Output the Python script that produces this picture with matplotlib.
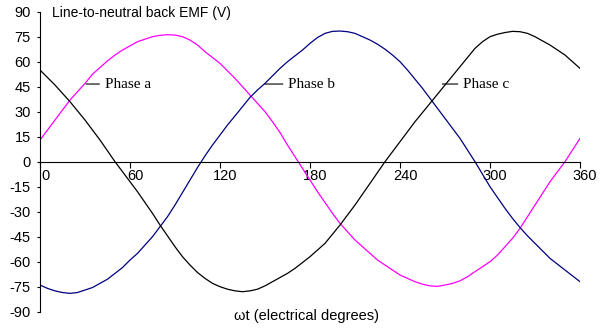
import matplotlib
matplotlib.use("Agg")
import matplotlib.pyplot as plt
from matplotlib.transforms import ScaledTranslation


# --------------------------------
# DATA  (back EMF every 5 electrical degrees)
# --------------------------------

theta = list(range(0, 361, 5))

phase_a = [13, 19, 25, 31, 37, 42, 47, 52.5, 56.5, 60.5,
           64, 67, 69.5, 72, 73.5, 75, 75.8, 76.2, 76, 75,
           73, 70, 66, 62.5, 59, 54.5, 50, 45, 40, 35,
           30, 24, 17.5, 10, 3, -4, -11, -18, -24.5, -31,
           -37, -42, -47, -51, -55, -59, -62, -65, -68, -70,
           -72, -73.5, -74.5, -74.8, -74, -73, -71.5, -69, -66, -63,
           -60, -56, -51, -46, -40, -33, -26, -19, -12, -6,
           0, 7, 14]

phase_b = [-74, -76, -77.5, -78.5, -79, -78.5, -77, -75.5, -73, -70.5,
           -67, -63.5, -59, -55, -50, -45, -39, -33, -26, -18.5,
           -11, -3.5, 3.5, 10, 16, 22, 27.5, 33, 38.6, 43,
           47, 51.5, 56, 60, 63.5, 67, 71, 74.5, 77, 78.2,
           78.4, 78, 77, 75, 73, 70.5, 67.5, 64, 60, 55,
           49.5, 44, 38, 32, 26, 20, 14, 7, 0, -7.5,
           -15, -21.5, -28, -34, -39.5, -44.5, -49, -53.5, -58, -61.5,
           -65, -68.5, -72]

phase_c = [55, 50.5, 46, 41, 36, 30.5, 25, 19, 13, 6.5,
           0, -6, -12, -18, -24.5, -31, -38, -44.5, -51, -57,
           -62, -66.5, -70, -73, -75, -76.5, -77.5, -78, -77.5, -76.5,
           -74.5, -72, -69.5, -67, -64, -60.5, -57, -53, -49, -43.5,
           -38, -32, -26, -19.5, -13, -6.5, 0, 6, 12, 18,
           24, 29.5, 35, 40.5, 46, 51.5, 57, 62.5, 68, 72,
           75, 76.5, 77.5, 78.2, 78, 77, 75, 72.5, 70, 67,
           64, 60, 56]

x_ticks = [0, 60, 120, 180, 240, 300, 360]
y_ticks = [-90, -75, -60, -45, -30, -15, 0, 15, 30, 45, 60, 75, 90]

# label text, point on the curve, text anchor
labels = ["Phase a", "Phase b", "Phase c"]
label_points = [(30.7, 46.6), (150, 46.6), (268.2, 46.6)]
label_text_pos = [(43.3, 46.6), (165.6, 46.6), (282.2, 46.6)]


# --------------------------------
# FIGURE
# --------------------------------

plt.rcParams["font.family"] = ["Liberation Sans", "DejaVu Sans"]
plt.rcParams["axes.unicode_minus"] = False

fig = plt.figure(figsize=(6.0, 3.29), dpi=100)
ax = fig.add_axes([40 / 600, 17.3 / 329, 540 / 600, 300 / 329])

ax.plot(theta, phase_a, color="#ff00ff", lw=0.9)
ax.plot(theta, phase_b, color="#000080", lw=0.9)
ax.plot(theta, phase_c, color="black", lw=0.9)

for name, pt, pos in zip(labels, label_points, label_text_pos):
    ax.annotate(
        name,
        xy=pt,
        xytext=pos,
        ha="left",
        va="center",
        fontsize=11,
        family=["Liberation Serif", "DejaVu Serif"],
        arrowprops=dict(arrowstyle="-", lw=0.8, color="black",
                        shrinkA=2, shrinkB=0),
    )


# --------------------------------
# AXES
# --------------------------------

ax.set_xlim(0, 360)
ax.set_ylim(-90, 90)

ax.spines["top"].set_visible(False)
ax.spines["right"].set_visible(False)
ax.spines["bottom"].set_position(("data", 0))
ax.spines["left"].set_linewidth(0.8)
ax.spines["bottom"].set_linewidth(0.8)

ax.set_xticks(x_ticks)
ax.set_yticks(y_ticks)
ax.tick_params(axis="x", direction="out", length=4, width=0.8,
               pad=1.5, labelsize=10.5)
ax.tick_params(axis="y", direction="out", length=2.5, width=0.8,
               pad=4, labelsize=10.5)

# x tick labels sit a little to the right of their ticks
shift = ScaledTranslation(5 / 100, 0, fig.dpi_scale_trans)
for lab in ax.get_xticklabels():
    lab.set_transform(lab.get_transform() + shift)

ax.text(0.022, 0.995, "Line-to-neutral back EMF (V)",
        transform=ax.transAxes, ha="left", va="center", fontsize=10)

ax.text(0.494, -0.014, "\u03c9t (electrical degrees)",
        transform=ax.transAxes, ha="center", va="center", fontsize=10.5)

fig.savefig("out.png", dpi=100)
